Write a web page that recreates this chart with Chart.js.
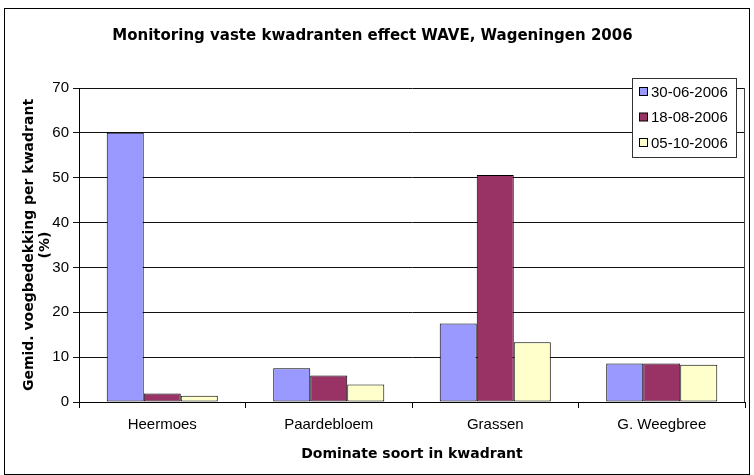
<!DOCTYPE html>
<html>
<head>
<meta charset="utf-8">
<title>Monitoring vaste kwadranten effect WAVE</title>
<script src="https://cdn.jsdelivr.net/npm/chart.js@4/dist/chart.umd.min.js"></script>
<style>
  body { margin: 0; background: #fff; }
  #wrap { width: 754px; height: 475px; }
</style>
</head>
<body>
<div id="wrap"><canvas id="chart" width="754" height="475"></canvas></div>
<script>
const categories = ["Heermoes", "Paardebloem", "Grassen", "G. Weegbree"];
const seriesLabels = ["30-06-2006", "18-08-2006", "05-10-2006"];
const juni = [60, 7.5, 17.5, 8.6];
const augustus = [1.9, 5.9, 50.6, 8.6];
const oktober = [1.4, 3.9, 13.3, 8.3];
const colors = ["#9999ff", "#993366", "#ffffcc"];

// white page + outer frame + right edge of the plot + legend box
const framePlugin = {
  id: "frame",
  beforeDraw(chart) {
    const ctx = chart.ctx;
    ctx.save();
    ctx.fillStyle = "#fff";
    ctx.fillRect(0, 0, chart.width, chart.height);
    ctx.restore();
  },
  beforeDatasetsDraw(chart) {
    const { ctx, chartArea } = chart;
    ctx.save();
    ctx.strokeStyle = "#404040";
    ctx.lineWidth = 1;
    ctx.beginPath();
    ctx.moveTo(Math.round(chartArea.right) - 0.5, chartArea.top);
    ctx.lineTo(Math.round(chartArea.right) - 0.5, chartArea.bottom);
    ctx.stroke();
    ctx.restore();
  },
  afterDraw(chart) {
    const ctx = chart.ctx;
    ctx.save();
    ctx.strokeStyle = "#000";
    ctx.lineWidth = 1;
    ctx.strokeRect(4.5, 8.5, 745, 466);

    // legend
    ctx.fillStyle = "#fff";
    ctx.fillRect(632.5, 78.5, 104, 79);
    ctx.strokeStyle = "#333";
    ctx.strokeRect(632.5, 78.5, 104, 79);
    ctx.font = "15px 'Liberation Sans'";
    ctx.textBaseline = "middle";
    chart.data.datasets.forEach((ds, i) => {
      const y = 92 + i * 25.5;
      ctx.fillStyle = ds.backgroundColor;
      ctx.fillRect(639.5, y - 4.5, 8, 8);
      ctx.strokeStyle = "#000";
      ctx.strokeRect(639.5, y - 4.5, 8, 8);
      ctx.fillStyle = "#000";
      ctx.fillText(ds.label, 651, y + 0.5);
    });
    ctx.restore();
  }
};

Chart.defaults.font.family = "'Liberation Sans', Arial, sans-serif";
Chart.defaults.color = "#000";

new Chart(document.getElementById("chart").getContext("2d"), {
  type: "bar",
  data: {
    labels: categories,
    datasets: [
      { label: seriesLabels[0], data: juni, backgroundColor: colors[0] },
      { label: seriesLabels[1], data: augustus, backgroundColor: colors[1] },
      { label: seriesLabels[2], data: oktober, backgroundColor: colors[2] }
    ].map(ds => Object.assign(ds, {
      borderColor: "#000",
      borderWidth: 1,
      borderSkipped: false,
      categoryPercentage: 0.667,
      barPercentage: 1
    }))
  },
  options: {
    responsive: false,
    animation: false,
    layout: { padding: { left: 0, right: 9, top: 0, bottom: 0 } },
    plugins: {
      legend: { display: false },
      tooltip: { enabled: false },
      title: {
        display: true,
        text: "Monitoring vaste kwadranten effect WAVE, Wageningen 2006",
        color: "#000",
        font: { family: "'DejaVu Sans'", size: 15, weight: "bold", lineHeight: 1.2 },
        padding: { top: 27, bottom: 43 }
      }
    },
    scales: {
      x: {
        grid: { drawOnChartArea: false, color: "#000", tickLength: 6, offset: true },
        border: { color: "#000" },
        ticks: { font: { size: 15 }, color: "#000", padding: 8, maxRotation: 0 },
        title: {
          display: true,
          text: "Dominate soort in kwadrant",
          color: "#000",
          font: { family: "'DejaVu Sans'", size: 14, weight: "bold", lineHeight: 1.2 },
          padding: { top: 0, bottom: 12 }
        },
        afterFit(scale) { scale.height = 73; }
      },
      y: {
        min: 0,
        max: 70,
        grid: { color: "#111", tickLength: 6 },
        border: { color: "#000" },
        ticks: { stepSize: 10, font: { size: 15 }, color: "#000", padding: 4 },
        title: {
          display: true,
          text: ["Gemid. voegbedekking per kwadrant", "(%)"],
          color: "#000",
          font: { family: "'DejaVu Sans'", size: 14, weight: "bold", lineHeight: 1.15 },
          padding: { top: 21, bottom: 0 }
        },
        afterFit(scale) { scale.width = 79; }
      }
    }
  },
  plugins: [framePlugin]
});
</script>
</body>
</html>
